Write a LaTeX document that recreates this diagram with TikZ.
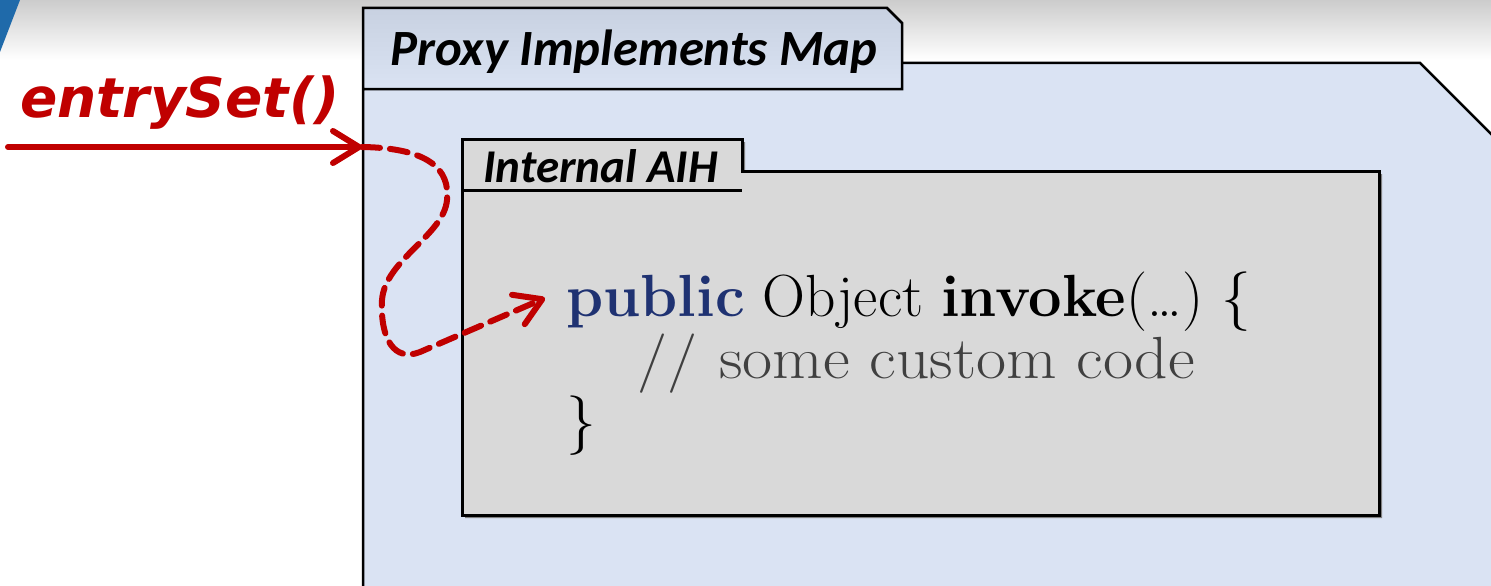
\documentclass[tikz,border=0pt]{standalone}
\usepackage{fontspec}
\usepackage{tikz}
\usetikzlibrary{arrows.meta,positioning,calc}
\newfontfamily\tabfont{Carlito}
\newfontfamily\callfont{DejaVu Sans}
\definecolor{mapblue}{HTML}{DAE3F3}
\definecolor{maptab}{HTML}{C8D1E1}
\definecolor{aihgray}{HTML}{D9D9D9}
\definecolor{callred}{HTML}{C00000}
\definecolor{kwblue}{HTML}{1F3272}
\definecolor{cmtgray}{HTML}{404040}
\definecolor{slideblue}{HTML}{1F6AAA}
\newcommand{\kw}[1]{\textcolor{kwblue}{\textbf{#1}}}

\begin{document}
\begin{tikzpicture}[x=1pt, y=-1pt,
  frame/.style={draw=black, line width=2.5pt, line join=miter},
  title/.style={anchor=base west, inner sep=0pt, font=\tabfont\bfseries\itshape\fontsize{50}{60}\selectfont},
  code/.style={anchor=base west, inner sep=0pt, align=left, font=\fontsize{59.5}{62}\selectfont},
  call/.style={callred, line width=6pt, line cap=round, -{Straight Barb[length=26pt, width=32pt, line cap=round, line join=round]}}]
\useasboundingbox (0,0) rectangle (1491,586);
\clip (0,0) rectangle (1491,586);
% slide background
\fill[white] (0,0) rectangle (1491,586);
\shade[top color=black!20, bottom color=white] (0,0) rectangle (1491,60);
\fill[slideblue] (0,0) -- (20,0) -- (0,52) -- cycle;
% outer frame
\fill[mapblue] (363,600) -- (363,89) -- (902,89) -- (902,63) -- (1420,63) -- (1500,143) -- (1500,600) -- cycle;
\shade[top color=maptab, bottom color=mapblue] (363,89) -- (363,8) -- (887,8) -- (902,23) -- (902,89) -- cycle;
\draw[frame] (363,600) -- (363,8) -- (887,8) -- (902,23) -- (902,89) -- (363,89);
\draw[frame] (902,63) -- (1420,63) -- (1500,143);
% inner frame
\fill[black!50] (465,142) -- (745,142) -- (745,174) -- (1382,174) -- (1382,518) -- (465,518) -- cycle;
\filldraw[fill=aihgray, draw=black, line width=3pt] (462,515) -- (462,139) -- (742,139) -- (742,171) -- (1379,171) -- (1379,515) -- cycle;
\draw[black, line width=3pt] (462,190) -- (742,190);
\node[title, font=\tabfont\bfseries\itshape\fontsize{50.8}{60}\selectfont] (pim) at (390,66) {Proxy Implements Map};
\node[title, font=\tabfont\bfseries\itshape\fontsize{47}{56}\selectfont] (aih) at (483,182) {Internal AIH};
\node[code] (body) at (566,440) {\kw{public} Object \textbf{invoke}(\dots) \{\\\hspace*{71pt}\textcolor{cmtgray}{\scalebox{1.1}[1]{//\,\,some custom code}}\\\}};
% the call
\node[anchor=base west, inner sep=0pt, text=callred, font=\callfont\bfseries\itshape\fontsize{55}{60}\selectfont] (call) at (20,117) {entrySet()};
\coordinate (src) at (8,147);
\coordinate (edge) at (362,147);
\coordinate (hook) at (545,298);
\draw[call] (src) -- (edge);
\draw[call, dash pattern=on 18pt off 10pt] (edge) .. controls (430,148) and (450,170) .. (447,200) .. controls (444,235) and (385,260) .. (382,300) .. controls (380,340) and (395,362) .. (420,352) -- (hook);
\end{tikzpicture}
\end{document}
